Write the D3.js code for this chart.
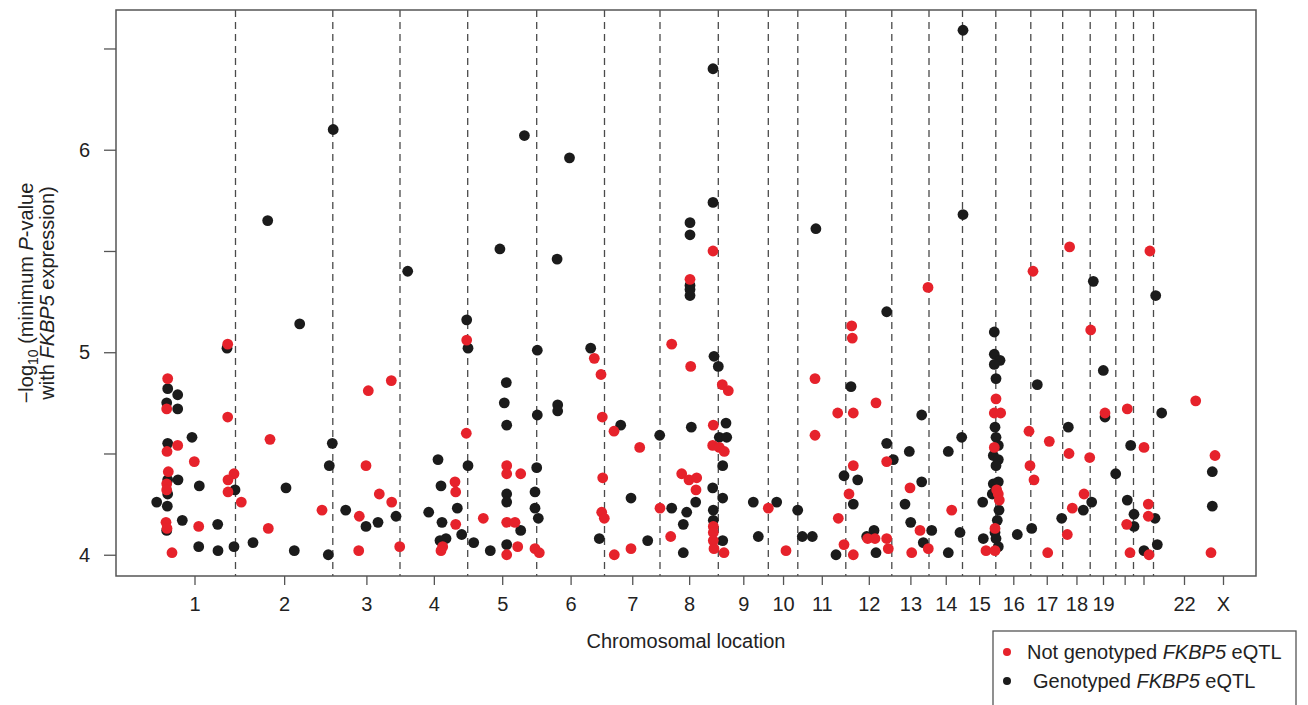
<!DOCTYPE html>
<head>
	<script src="https://d3js.org/d3.v7.min.js"></script>
	<style>
		body { margin: 0; background: #fff; }
		svg { display: block; font-family: "Liberation Sans", Arial, sans-serif; }
	</style>
</head>
<body>
<svg></svg>
<script>
// chromosome layout along the genome index (arbitrary units)
var chromNames = ["1","2","3","4","5","6","7","8","9","10","11","12","13","14","15","16","17","18","19","20","21","22","X"];
var chromTickLabels = ["1","2","3","4","5","6","7","8","9","10","11","12","13","14","15","16","17","18","19","","","22","X"];
var chromBounds = [3.75, 11.95, 21.68, 28.4, 35.17, 42.07, 48.85, 54.4, 60.23, 65.23, 68.18, 72.98,
	77.58, 81.3, 84.65, 87.98, 91.48, 94.67, 97.42, 99.98, 101.75, 103.75, 109.85, 111.55];

var yTicks = [4, 4.5, 5, 5.5, 6, 6.5];
var yTickLabels = ["4", "", "5", "", "6", ""];

// [genome index, -log10 P]
var notGenotyped = [
	[11.17,5.04],[5.17,4.87],[5.07,4.72],[11.17,4.68],[6.17,4.54],[15.40,4.57],[5.10,4.51],[7.83,4.46],
	[5.23,4.41],[11.80,4.40],[11.20,4.37],[5.07,4.35],[5.07,4.32],[11.20,4.31],[12.53,4.26],[5.00,4.16],
	[5.10,4.13],[8.27,4.14],[15.23,4.13],[5.60,4.01],
	[35.07,5.06],[25.23,4.81],[27.53,4.86],[35.03,4.60],[25.00,4.44],[39.07,4.44],[39.07,4.40],[33.90,4.36],
	[33.97,4.31],[26.33,4.30],[27.57,4.26],[20.60,4.22],[24.33,4.19],[33.97,4.15],[36.73,4.18],[39.07,4.16],
	[32.67,4.04],[32.50,4.02],[39.07,4.00],[24.27,4.02],[28.37,4.04],
	[40.47,4.40],[39.90,4.16],[40.17,4.04],[41.90,4.03],[42.33,4.01],[47.83,4.97],[48.50,4.89],[48.63,4.68],
	[49.80,4.61],[52.37,4.53],[55.57,5.04],[57.47,4.93],[48.67,4.38],[48.57,4.21],[48.83,4.18],[49.83,4.00],
	[51.50,4.03],[54.40,4.23],[56.57,4.40],[57.30,4.37],[58.07,4.38],[58.00,4.32],[55.47,4.09],
	[60.63,4.84],[61.23,4.81],[59.73,4.64],[59.67,4.54],[60.33,4.53],[60.83,4.51],[59.73,4.14],[59.73,4.11],
	[59.73,4.07],[59.80,4.03],[60.80,4.01],[65.23,4.23],[67.00,4.02],[69.90,4.87],[69.90,4.59],[73.57,5.13],
	[73.63,5.07],[72.17,4.70],[73.73,4.70],[73.73,4.44],[73.30,4.30],[72.23,4.18],[72.80,4.05],[73.73,4.00],
	[76.00,4.75],[77.07,4.46],[75.17,4.08],[75.90,4.08],[77.07,4.08],[77.23,4.03],
	[79.40,4.33],[80.40,4.12],[79.57,4.01],[81.23,4.03],[83.57,4.22],[88.00,4.77],[87.83,4.70],[88.47,4.70],
	[87.83,4.53],[88.07,4.32],[88.23,4.30],[88.33,4.27],[87.90,4.13],[87.00,4.02],[87.90,4.02],[91.30,4.61],
	[93.33,4.56],[91.40,4.44],[91.80,4.37],[93.17,4.01],[95.30,4.50],[95.63,4.23],[95.13,4.10],
	[97.47,5.11],[98.90,4.70],[101.13,4.72],[107.97,4.76],[102.80,4.53],[97.37,4.48],[109.90,4.49],[96.80,4.30],
	[103.23,4.25],[103.23,4.19],[101.07,4.15],[101.40,4.01],[103.30,4.00],[109.50,4.01],
	[57.40,5.36],[59.70,5.50],[81.20,5.32],[91.70,5.40],[95.36,5.52],[103.39,5.50]
];

var genotyped = [
	[18.37,5.14],[11.10,5.02],[5.17,4.82],[6.17,4.79],[5.07,4.75],[6.17,4.72],[7.60,4.58],[5.17,4.55],
	[5.17,4.37],[6.20,4.37],[5.17,4.30],[8.33,4.34],[11.90,4.32],[17.00,4.33],[4.07,4.26],[5.13,4.24],
	[5.07,4.12],[6.63,4.17],[10.17,4.15],[8.27,4.04],[10.20,4.02],[11.80,4.04],[13.70,4.06],[17.83,4.02],
	[35.07,5.16],[35.20,5.02],[39.03,4.85],[38.83,4.75],[39.07,4.64],[21.63,4.55],[21.33,4.44],[32.20,4.47],
	[35.20,4.44],[32.50,4.34],[39.07,4.30],[39.07,4.26],[22.97,4.22],[25.00,4.14],[26.20,4.16],[28.00,4.19],
	[31.27,4.21],[34.13,4.23],[32.60,4.16],[34.57,4.10],[33.00,4.08],[32.40,4.07],[35.77,4.06],[37.43,4.02],
	[39.07,4.05],[21.23,4.00],
	[40.47,4.12],[42.13,5.01],[42.13,4.69],[42.07,4.43],[41.90,4.31],[41.90,4.23],[42.23,4.18],[44.17,4.74],
	[44.17,4.71],[47.47,5.02],[50.47,4.64],[54.37,4.59],[57.53,4.63],[51.50,4.28],[48.33,4.08],[53.17,4.07],
	[55.57,4.23],[57.97,4.26],[57.07,4.21],[56.73,4.15],[56.73,4.01],
	[59.80,4.98],[60.23,4.93],[61.00,4.65],[60.33,4.58],[61.07,4.58],[60.67,4.44],[59.67,4.33],[60.67,4.28],
	[59.73,4.22],[59.73,4.17],[60.67,4.07],[63.73,4.26],[66.07,4.26],[64.23,4.09],[68.17,4.22],[68.63,4.09],
	[69.63,4.09],[73.50,4.83],[72.80,4.39],[74.17,4.37],[73.73,4.25],[72.00,4.00],[77.07,5.20],[77.07,4.55],
	[75.07,4.09],[75.80,4.12],[76.00,4.01],
	[77.73,4.47],[80.57,4.69],[79.33,4.51],[80.57,4.36],[78.90,4.25],[79.47,4.16],[81.57,4.12],[80.73,4.06],
	[84.57,4.58],[83.23,4.51],[84.40,4.11],[83.23,4.01],
	[87.83,5.10],[87.83,4.99],[88.40,4.96],[87.83,4.94],[88.00,4.87],[87.90,4.63],[88.00,4.58],[88.23,4.54],
	[87.73,4.49],[88.23,4.47],[88.00,4.44],[87.73,4.35],[88.23,4.36],[87.63,4.30],[86.67,4.26],[88.30,4.22],
	[88.13,4.17],[87.90,4.11],[86.73,4.08],[88.00,4.08],[88.23,4.04],[90.13,4.10],[92.13,4.84],[91.57,4.13],
	[95.23,4.63],[94.57,4.18],
	[98.73,4.91],[98.90,4.68],[104.57,4.70],[101.47,4.54],[99.97,4.40],[109.63,4.41],[97.57,4.26],[96.73,4.22],
	[101.13,4.27],[101.80,4.20],[103.90,4.18],[101.80,4.14],[109.63,4.24],[102.80,4.02],[104.13,4.05],
	[15.17,5.65],[21.72,6.10],[29.17,5.40],[38.39,5.51],[40.84,6.07],[44.11,5.46],[45.35,5.96],[57.40,5.64],
	[57.40,5.58],[57.40,5.33],[57.40,5.31],[57.40,5.28],[59.70,6.40],[59.70,5.74],[69.99,5.61],[84.70,6.59],
	[84.70,5.68],[97.73,5.35],[103.97,5.28]
];

var width = 1308, height = 705;
var plotLeft = 116, plotRight = 1256, plotTop = 10, plotBottom = 576;
var red = "#e6222b", black = "#1b1b1b";

var svg = d3.select("svg").attr("width", width).attr("height", height);

var xScale = d3.scaleLinear().domain([0, 114]).range([plotLeft, plotRight]);
var yScale = d3.scaleLinear().domain([3.895, 6.69]).range([plotBottom, plotTop]);

var centers = chromNames.map(function(d, i) { return (chromBounds[i] + chromBounds[i + 1]) / 2; });

// chromosome separators (none between 22 and X)
svg.append("g").selectAll("line")
	.data(chromBounds.slice(1, 22))
	.enter().append("line")
	.attr("x1", function(d) { return xScale(d); })
	.attr("x2", function(d) { return xScale(d); })
	.attr("y1", plotTop).attr("y2", plotBottom)
	.attr("stroke", "#4a4a4a")
	.attr("stroke-width", 1.3)
	.attr("stroke-dasharray", "7,5");

var xAxis = d3.axisBottom(xScale)
	.tickValues(centers)
	.tickFormat(function(d, i) { return chromTickLabels[i]; })
	.tickSize(9)
	.tickPadding(12);

var gx = svg.append("g").attr("transform", "translate(0," + plotBottom + ")").call(xAxis);
gx.select(".domain").remove();

var yAxis = d3.axisLeft(yScale)
	.tickValues(yTicks)
	.tickFormat(function(d, i) { return yTickLabels[i]; })
	.tickSize(12)
	.tickPadding(14);

var gy = svg.append("g").attr("transform", "translate(" + plotLeft + ",0)").call(yAxis);
gy.select(".domain").remove();

svg.selectAll(".tick line").attr("stroke", "#555").attr("stroke-width", 1.3);
svg.selectAll(".tick text").attr("font-size", 20).attr("fill", "#222")
	.attr("font-family", "'Liberation Sans', Arial, sans-serif");

// plot frame
svg.append("rect")
	.attr("x", plotLeft).attr("y", plotTop)
	.attr("width", plotRight - plotLeft).attr("height", plotBottom - plotTop)
	.attr("fill", "none").attr("stroke", "#555").attr("stroke-width", 1.5);

svg.append("g").selectAll("circle")
	.data(genotyped)
	.enter().append("circle")
	.attr("cx", function(d) { return xScale(d[0]); })
	.attr("cy", function(d) { return yScale(d[1]); })
	.attr("r", 5.4)
	.attr("fill", black);

svg.append("g").selectAll("circle")
	.data(notGenotyped)
	.enter().append("circle")
	.attr("cx", function(d) { return xScale(d[0]); })
	.attr("cy", function(d) { return yScale(d[1]); })
	.attr("r", 5.4)
	.attr("fill", red);

// axis titles
svg.append("text")
	.attr("x", (plotLeft + plotRight) / 2).attr("y", 648)
	.attr("text-anchor", "middle").attr("font-size", 20).attr("fill", "#222")
	.text("Chromosomal location");

var ylab = svg.append("text")
	.attr("transform", "translate(33,293) rotate(-90)")
	.attr("text-anchor", "middle").attr("font-size", 20).attr("fill", "#222");
ylab.append("tspan").text("\u2212log");
ylab.append("tspan").attr("font-size", 14).attr("dy", 5).text("10");
ylab.append("tspan").attr("dy", -5).text(" (minimum ");
ylab.append("tspan").attr("font-style", "italic").text("P");
ylab.append("tspan").text("-value");

var ylab2 = svg.append("text")
	.attr("transform", "translate(54,293) rotate(-90)")
	.attr("text-anchor", "middle").attr("font-size", 20).attr("fill", "#222");
ylab2.append("tspan").text("with ");
ylab2.append("tspan").attr("font-style", "italic").text("FKBP5");
ylab2.append("tspan").text(" expression)");

// legend
var legend = svg.append("g");
legend.append("rect")
	.attr("x", 993).attr("y", 631).attr("width", 303).attr("height", 90)
	.attr("fill", "#fff").attr("stroke", "#555").attr("stroke-width", 1.3);

var legendItems = [
	{ color: red, pre: "Not genotyped ", tx: 1027, cy: 652 },
	{ color: black, pre: "Genotyped ", tx: 1033, cy: 681 }
];
legendItems.forEach(function(d) {
	legend.append("circle").attr("cx", 1007).attr("cy", d.cy).attr("r", 4).attr("fill", d.color);
	var t = legend.append("text").attr("x", d.tx).attr("y", d.cy + 6.5)
		.attr("font-size", 20).attr("fill", "#222");
	t.append("tspan").text(d.pre);
	t.append("tspan").attr("font-style", "italic").text("FKBP5");
	t.append("tspan").text(" eQTL");
});
</script>
</body>
</html>
